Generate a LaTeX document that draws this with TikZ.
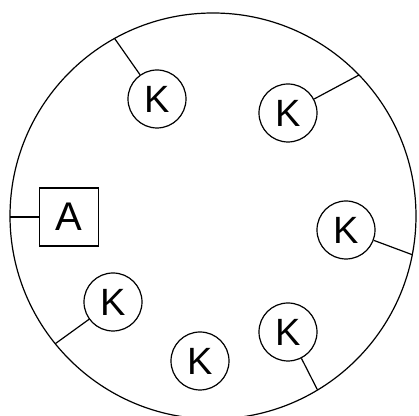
\documentclass[tikz,border=0pt]{standalone}
\usepackage{fontspec}
\setmainfont{Liberation Sans}
\begin{document}
\begin{tikzpicture}[x=0.5pt, y=0.5pt, line width=0.6pt,
	kball/.style={circle, draw, minimum size=29pt, inner sep=0pt, font=\fontsize{19}{19}\selectfont},
	abox/.style={rectangle, draw, minimum width=29.5pt, minimum height=29pt, inner sep=0pt, font=\fontsize{20}{20}\selectfont}]
	\useasboundingbox (0,0) rectangle (419,416);
	\clip (0,0) rectangle (419,416);
	\node[circle, draw, minimum size=203pt, inner sep=0pt, outer sep=0pt] (rim) at (213,200) {};
	\node[abox] (a) at (69,199) {A};
	\node[kball] (k1) at (157,317) {K};
	\node[kball] (k2) at (288,303) {K};
	\node[kball] (k3) at (346,186) {K};
	\node[kball] (k4) at (113,114) {K};
	\node[kball] (k5) at (200,55) {K};
	\node[kball] (k6) at (288,84) {K};
	\draw (a) -- (a -| rim.west);
	\draw (k1) -- (rim.119.6);
	\draw (k2) -- (rim.44.4);
	\draw (k3) -- (rim.-11.4);
	\draw (k4) -- (rim.219.2);
	\draw (k6) -- (rim.-59.1);
\end{tikzpicture}
\end{document}
